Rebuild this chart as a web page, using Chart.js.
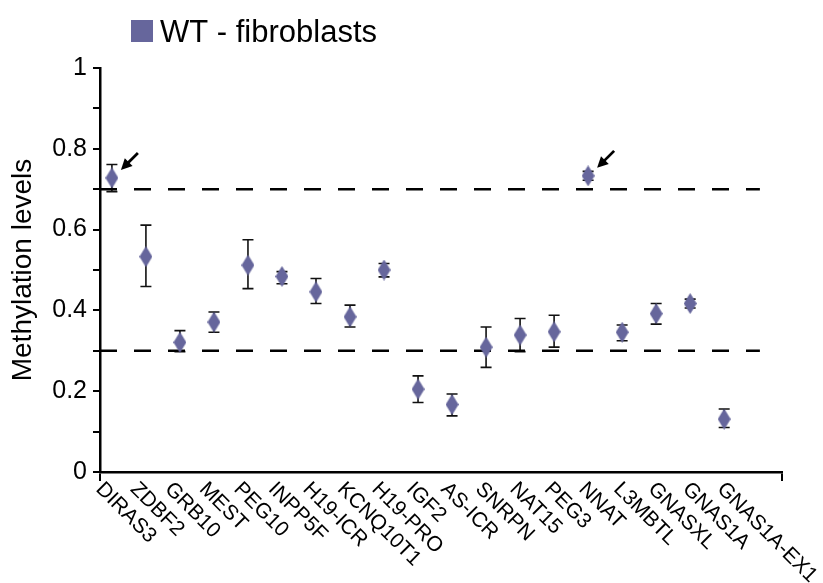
<!DOCTYPE html>
<html>
<head>
<meta charset="utf-8">
<script src="https://cdn.jsdelivr.net/npm/chart.js@4"></script>
<style>
  html, body { margin: 0; padding: 0; background: #fff; }
  canvas { display: block; }
</style>
</head>
<body>
<canvas id="chart" width="823" height="583"></canvas>
<script>
// ---- data ----
const seriesName = 'WT - fibroblasts';
const categories = ['DIRAS3', 'ZDBF2', 'GRB10', 'MEST', 'PEG10', 'INPP5F', 'H19-ICR', 'KCNQ10T1', 'H19-PRO', 'IGF2',
                    'AS-ICR', 'SNRPN', 'NAT15', 'PEG3', 'NNAT', 'L3MBTL', 'GNASXL', 'GNAS1A', 'GNAS1A-EX1'];
const means    = [0.728, 0.533, 0.321, 0.371, 0.512, 0.484, 0.446, 0.384, 0.500, 0.205,
                  0.167, 0.309, 0.339, 0.347, 0.733, 0.346, 0.392, 0.417, 0.131];
const errUpper = [0.761, 0.611, 0.350, 0.396, 0.575, 0.496, 0.479, 0.413, 0.516, 0.238,
                  0.193, 0.359, 0.380, 0.388, 0.744, 0.364, 0.417, 0.428, 0.156];
const errLower = [0.694, 0.459, 0.298, 0.346, 0.454, 0.466, 0.417, 0.359, 0.483, 0.172,
                  0.139, 0.259, 0.298, 0.309, 0.722, 0.325, 0.366, 0.406, 0.110];
const thresholds = [0.7, 0.3];
const thresholdSpan = [-0.35, 19.05];
const arrowTargets = ['DIRAS3', 'NNAT'];

const FONT = '"Liberation Sans", Arial, sans-serif';
const POINT_COLOR = '#66669c';

// tall diamond marker
function diamondImage(w, h, color) {
    const c = document.createElement('canvas');
    c.width = w;
    c.height = h;
    const g = c.getContext('2d');
    g.fillStyle = color;
    g.beginPath();
    g.moveTo(w / 2, 0);
    g.lineTo(w, h / 2);
    g.lineTo(w / 2, h);
    g.lineTo(0, h / 2);
    g.closePath();
    g.fill();
    return c;
}

// error bars, under the markers
const errorBarsPlugin = {
    id: 'errorBars',
    beforeDatasetsDraw(chart) {
        const { ctx, scales: { x, y } } = chart;
        ctx.save();
        ctx.strokeStyle = '#111';
        ctx.lineWidth = 1.6;
        categories.forEach((_, i) => {
            const px = x.getPixelForValue(i);
            const top = y.getPixelForValue(errUpper[i]);
            const bot = y.getPixelForValue(errLower[i]);
            ctx.beginPath();
            ctx.moveTo(px, top); ctx.lineTo(px, bot);
            ctx.moveTo(px - 5.5, top); ctx.lineTo(px + 5.5, top);
            ctx.moveTo(px - 5.5, bot); ctx.lineTo(px + 5.5, bot);
            ctx.stroke();
        });
        ctx.restore();
    }
};

// arrows, legend, slanted category labels
const overlayPlugin = {
    id: 'overlay',
    afterDraw(chart) {
        const { ctx, scales: { x, y } } = chart;
        ctx.save();

        // arrows pointing at the highlighted genes
        ctx.strokeStyle = '#000';
        ctx.fillStyle = '#000';
        ctx.lineWidth = 2.8;
        arrowTargets.forEach(name => {
            const i = categories.indexOf(name);
            const px = x.getPixelForValue(i);
            const py = y.getPixelForValue(means[i]);
            const tip = [px + 9, py - 8];
            const tail = [px + 26, py - 25];
            const len = Math.hypot(tip[0] - tail[0], tip[1] - tail[1]);
            const d = [(tip[0] - tail[0]) / len, (tip[1] - tail[1]) / len];
            const n = [-d[1], d[0]];
            ctx.beginPath();
            ctx.moveTo(tail[0], tail[1]);
            ctx.lineTo(tip[0] - d[0] * 6, tip[1] - d[1] * 6);
            ctx.stroke();
            ctx.beginPath();
            ctx.moveTo(tip[0], tip[1]);
            ctx.lineTo(tip[0] - d[0] * 11 + n[0] * 5.5, tip[1] - d[1] * 11 + n[1] * 5.5);
            ctx.lineTo(tip[0] - d[0] * 11 - n[0] * 5.5, tip[1] - d[1] * 11 - n[1] * 5.5);
            ctx.closePath();
            ctx.fill();
        });

        // legend
        ctx.fillStyle = POINT_COLOR;
        ctx.fillRect(131, 20, 22, 22);
        ctx.fillStyle = '#000';
        ctx.font = '31px ' + FONT;
        ctx.textAlign = 'left';
        ctx.textBaseline = 'alphabetic';
        ctx.fillText(seriesName, 160, 42);

        // category labels, rotated clockwise
        ctx.font = '21px ' + FONT;
        categories.forEach((name, i) => {
            const px = x.getPixelForValue(i);
            ctx.save();
            ctx.translate(px - 17 + i * 0.5, x.top + 18);
            ctx.rotate(Math.PI / 4);
            ctx.fillText(name, 0, 0);
            ctx.restore();
        });

        ctx.restore();
    }
};

const pointData = categories.map((_, i) => ({ x: i, y: means[i] }));
const thresholdSets = thresholds.map(t => ({
    data: thresholdSpan.map(v => ({ x: v, y: t })),
    showLine: true,
    borderColor: '#000',
    borderWidth: 2.5,
    borderDash: [17, 17],
    pointRadius: 0,
    order: 2
}));

new Chart(document.getElementById('chart'), {
    type: 'scatter',
    data: {
        datasets: [
            {
                label: seriesName,
                data: pointData,
                pointStyle: diamondImage(13, 21, POINT_COLOR),
                order: 0
            },
            ...thresholdSets
        ]
    },
    options: {
        responsive: false,
        animation: false,
        events: [],
        layout: { padding: { top: 68, right: 41, left: 0, bottom: 0 } },
        plugins: {
            legend: { display: false },
            tooltip: { enabled: false }
        },
        scales: {
            x: {
                type: 'linear',
                min: -0.35,
                max: 19.7,
                afterBuildTicks(scale) {
                    scale.ticks = [{ value: scale.min }, { value: scale.max }];
                },
                afterFit(scale) { scale.height = 111; },
                ticks: { display: false },
                grid: { drawOnChartArea: false, drawTicks: true, tickLength: 9, color: '#000', lineWidth: 2 },
                border: { display: true, color: '#000', width: 2.5 }
            },
            y: {
                min: 0,
                max: 1,
                afterFit(scale) { scale.width = 100; },
                ticks: {
                    stepSize: 0.1,
                    padding: 6,
                    color: '#000',
                    font: { family: FONT, size: 25 },
                    callback(value) {
                        const k = Math.round(value * 10);
                        if (k % 2) return '';
                        return String(k / 10);
                    }
                },
                grid: { drawOnChartArea: false, drawTicks: true, tickLength: 7, color: '#000', lineWidth: 2 },
                border: { display: true, color: '#000', width: 2.5 },
                title: {
                    display: true,
                    text: 'Methylation levels',
                    color: '#000',
                    font: { family: FONT, size: 28 },
                    padding: { top: 6, bottom: 4 }
                }
            }
        }
    },
    plugins: [errorBarsPlugin, overlayPlugin]
});
</script>
</body>
</html>
